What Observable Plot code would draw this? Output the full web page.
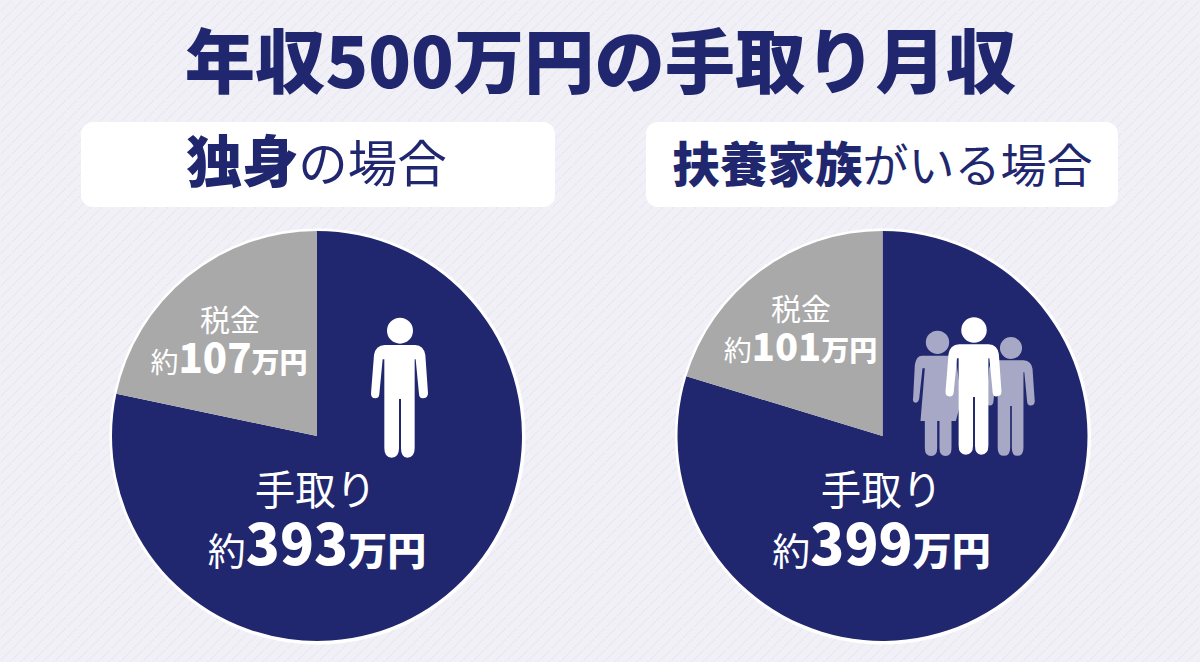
<!DOCTYPE html>
<html>
<head>
<meta charset="utf-8">
<script src="https://cdn.jsdelivr.net/npm/d3@7"></script>
<script src="https://cdn.jsdelivr.net/npm/@observablehq/plot@0.6"></script>
<style>
html,body{margin:0;padding:0;background:#f1f0f7;overflow:hidden}
svg{display:block}
</style>
</head>
<body>
<script>
const titleText = "年収500万円の手取り月収";
const headings = [
  [["独身", 56, 900], ["の場合", 49.5, 400]],
  [["扶養家族", 47.5, 900], ["がいる場合", 46, 400]]
];
const categories = ["手取り", "税金"];
const singleValues = [391.5, 108.5];
const familyValues = [398.5, 101.5];
const sliceColors = ["#20276f", "#a9a9a9"];

const FONT = "'Noto Sans CJK JP','Noto Sans',sans-serif";
const W = 1200, H = 662;

// layout
const pies = [
  {cx: 317, cy: 436, r: 205, values: singleValues},
  {cx: 882.5, cy: 436, r: 205, values: familyValues}
];
const cards = [
  {x1: 81, x2: 555, y1: 122, y2: 207},
  {x1: 646, x2: 1118, y1: 122, y2: 207}
];
const labelRows = [
  {x: 229.5, y: 327, spans: [["税金", 30, 400]]},
  {x: 228.5, y: 369, spans: [["約", 28, 400], ["107", 40, 800], ["万円", 28, 900]]},
  {x: 800.5, y: 316, spans: [["税金", 30, 400]]},
  {x: 800, y: 357, spans: [["約", 28, 400], ["101", 38, 800], ["万円", 28, 900]]},
  {x: 315, y: 501, spans: [["手取り", 40.5, 400]]},
  {x: 316.5, y: 561, spans: [["約", 38, 400], ["393", 56, 800], ["万円", 39, 900]]},
  {x: 881, y: 501, spans: [["手取り", 40.5, 400]]},
  {x: 881, y: 561, spans: [["約", 38, 400], ["399", 56, 800], ["万円", 39, 900]]}
];
const headingRows = [
  {x: 316, y: 178, spans: headings[0]},
  {x: 882, y: 178, spans: headings[1]}
];

const PERSON = "M-45,135 L45,135 Q72,137 76,165 L84,280 Q84,295 68,295 Q58,295 57,282 L47,178 L44,178 L44,445 Q44,473 22,473 Q3,473 3,445 L3,297 L-3,297 L-3,445 Q-3,473 -25,473 Q-47,473 -47,445 L-47,178 L-52,178 L-62,282 Q-63,295 -74,295 Q-88,295 -87,280 L-78,165 Q-74,137 -45,135 Z M39,92 A39,39 0 1 1 -39,92 A39,39 0 1 1 39,92 Z";
const WOMAN = "M-40,167 L60,167 L78,300 L61,363 L48,363 L48,445 Q48,468 30,468 Q12,468 12,445 L12,363 L5,363 L5,445 Q5,468 -13,468 Q-32,468 -32,445 L-32,363 L-45,363 L-32,205 L-39,205 L-49,296 Q-52,308 -60,308 Q-70,308 -67,292 L-62,195 Q-58,167 -40,167 Z M41,127 A35,35 0 1 1 -29,127 A35,35 0 1 1 41,127 Z";
const icons = [
  {x: 400, y: 300, s: 1/3, d: PERSON, fill: "#ffffff"},
  {x: 1011, y: 322, s: 0.283, d: PERSON, fill: "#a6a8c5"},
  {x: 935.5, y: 300, s: 1/3, d: WOMAN, fill: "#a6a8c5"},
  {x: 974, y: 300, s: 0.327, d: PERSON, fill: "#ffffff"}
];

const ns = "http://www.w3.org/2000/svg";
function el(name, attrs) {
  const e = document.createElementNS(ns, name);
  for (const k in attrs) e.setAttribute(k, attrs[k]);
  return e;
}

// background stripes pattern
function backgroundDefs() {
  const defs = el("defs", {});
  const S = 11;
  const p = el("pattern", {id: "stripes", patternUnits: "userSpaceOnUse", width: S, height: S});
  p.appendChild(el("rect", {width: S, height: S, fill: "#f1f0f7"}));
  for (const d of [`M-1,${S+1} L${S+1},-1`, "M-1,1 L1,-1", `M${S-1},${S+1} L${S+1},${S-1}`])
    p.appendChild(el("path", {d, stroke: "#d6d6e0", "stroke-width": 1, "stroke-dasharray": "1.4 1.4", fill: "none"}));
  defs.appendChild(p);
  return defs;
}

function pieMark(pie) {
  return (index, {x, y}) => {
    const g = el("g", {});
    const cx = x(pie.cx), cy = y(pie.cy);
    const arcs = d3.pie().sort(null)(pie.values);
    const arc = d3.arc().innerRadius(0).outerRadius(pie.r);
    arcs.forEach((a, i) => {
      const path = el("path", {d: arc(a), fill: sliceColors[i], transform: `translate(${cx},${cy})`});
      const t = el("title", {}); t.textContent = `${categories[i]} ${pie.values[i]}`;
      path.appendChild(t);
      g.appendChild(path);
    });
    return g;
  };
}

function iconMark(index, {x, y}) {
  const g = el("g", {});
  for (const ic of icons)
    g.appendChild(el("path", {d: ic.d, fill: ic.fill, transform: `translate(${x(ic.x)},${y(ic.y)}) scale(${ic.s})`}));
  return g;
}

// rich text: one text element with spans of differing size
function richText(rows, fill) {
  return Plot.text(rows, {
    x: "x", y: "y",
    text: d => d.spans.map(s => s[0]).join(""),
    fill, textAnchor: "middle", lineAnchor: "middle",
    render(index, scales, values, dims, ctx, next) {
      const g = next(index, scales, values, dims, ctx);
      d3.select(g).selectAll("text").each(function(_, j) {
        const row = rows[index[j]];
        this.textContent = "";
        for (const s of row.spans) {
          const t = el("tspan", {"font-size": s[1], "font-weight": s[2]});
          t.textContent = s[0];
          this.appendChild(t);
        }
      });
      return g;
    }
  });
}

const chart = Plot.plot({
  width: W, height: H,
  margin: 0,
  style: {background: "#f1f0f7", fontFamily: FONT},
  x: {domain: [0, W], range: [0, W], axis: null},
  y: {domain: [0, H], range: [0, H], axis: null},
  r: {type: "identity"},
  marks: [
    () => backgroundDefs(),
    Plot.frame({fill: "url(#stripes)", stroke: null}),
    Plot.text([titleText], {x: () => 600, y: () => 65, text: d => d, fontSize: 70.3, fontWeight: 900, fill: "#20276f", textAnchor: "middle"}),
    Plot.rect(cards, {x1: "x1", x2: "x2", y1: "y1", y2: "y2", fill: "#ffffff", rx: 12}),
    richText(headingRows, "#20276f"),
    Plot.dot(pies, {x: "cx", y: "cy", r: d => d.r + 3, fill: "#ffffff", stroke: null}),
    pieMark(pies[0]),
    pieMark(pies[1]),
    iconMark,
    richText(labelRows, "#ffffff")
  ]
});
document.body.appendChild(chart);
</script>
</body>
</html>
